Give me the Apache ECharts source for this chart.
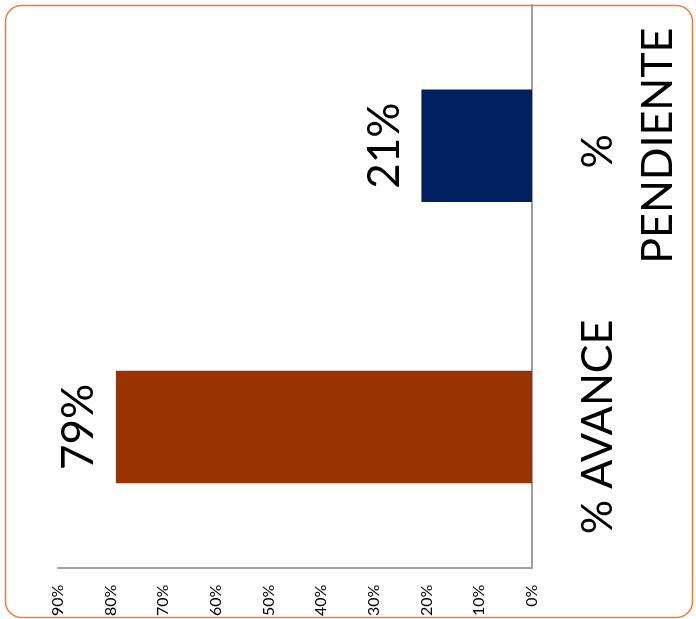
<!DOCTYPE html>
<html>
<head>
<meta charset="utf-8">
<script src="https://cdn.jsdelivr.net/npm/echarts@6/dist/echarts.min.js"></script>
<style>
  html, body { margin: 0; padding: 0; background: #ffffff; }
  #chart { width: 696px; height: 619px; }
</style>
</head>
<body>
<div id="chart"></div>
<script>
// Progress summary: share completed vs. share pending
const categories = ['% AVANCE', '% PENDIENTE'];
const values = [0.79, 0.21];
const barColors = ['#993300', '#002060'];
const tickValues = [0, 0.1, 0.2, 0.3, 0.4, 0.5, 0.6, 0.7, 0.8, 0.9];

const FONT = 'Lato, "Open Sans", sans-serif';
const pct = v => Math.round(v * 100) + '%';

const chart = echarts.init(document.getElementById('chart'), null, { renderer: 'canvas' });

chart.setOption({
  animation: false,
  backgroundColor: '#ffffff',
  textStyle: { fontFamily: FONT },
  graphic: [{
    type: 'rect',
    shape: { x: 5.5, y: 5.5, width: 687, height: 612, r: 16 },
    style: { fill: 'none', stroke: '#ED7D31', lineWidth: 1.5 },
    silent: true,
    z: 100
  }],
  grid: { left: 58, right: 164, top: 5, bottom: 51 },
  xAxis: {
    type: 'value',
    inverse: true,
    min: tickValues[0],
    max: tickValues[tickValues.length - 1],
    interval: 0.1,
    axisLine: { show: true, lineStyle: { color: '#A0A0A0', width: 2 } },
    axisTick: { show: false },
    splitLine: { show: false },
    axisLabel: {
      rotate: 90,
      margin: 17,
      fontSize: 16,
      color: '#000000',
      fontFamily: FONT,
      formatter: v => pct(v)
    }
  },
  yAxis: {
    type: 'category',
    position: 'right',
    data: categories,
    axisLine: { show: true, lineStyle: { color: '#A0A0A0', width: 2 } },
    axisTick: { show: false },
    axisLabel: {
      interval: 0,
      hideOverlap: false,
      rotate: 90,
      margin: 36,
      fontSize: 43,
      lineHeight: 60,
      color: '#000000',
      fontFamily: FONT,
      width: 250,
      overflow: 'break'
    }
  },
  series: [{
    type: 'bar',
    barWidth: '40%',
    data: values.map((v, i) => ({ value: v, itemStyle: { color: barColors[i] } })),
    label: {
      show: true,
      position: 'left',
      distance: 15,
      rotate: 90,
      align: 'center',
      verticalAlign: 'bottom',
      fontSize: 44,
      color: '#000000',
      fontFamily: FONT,
      formatter: p => pct(p.value)
    }
  }]
});
</script>
</body>
</html>
